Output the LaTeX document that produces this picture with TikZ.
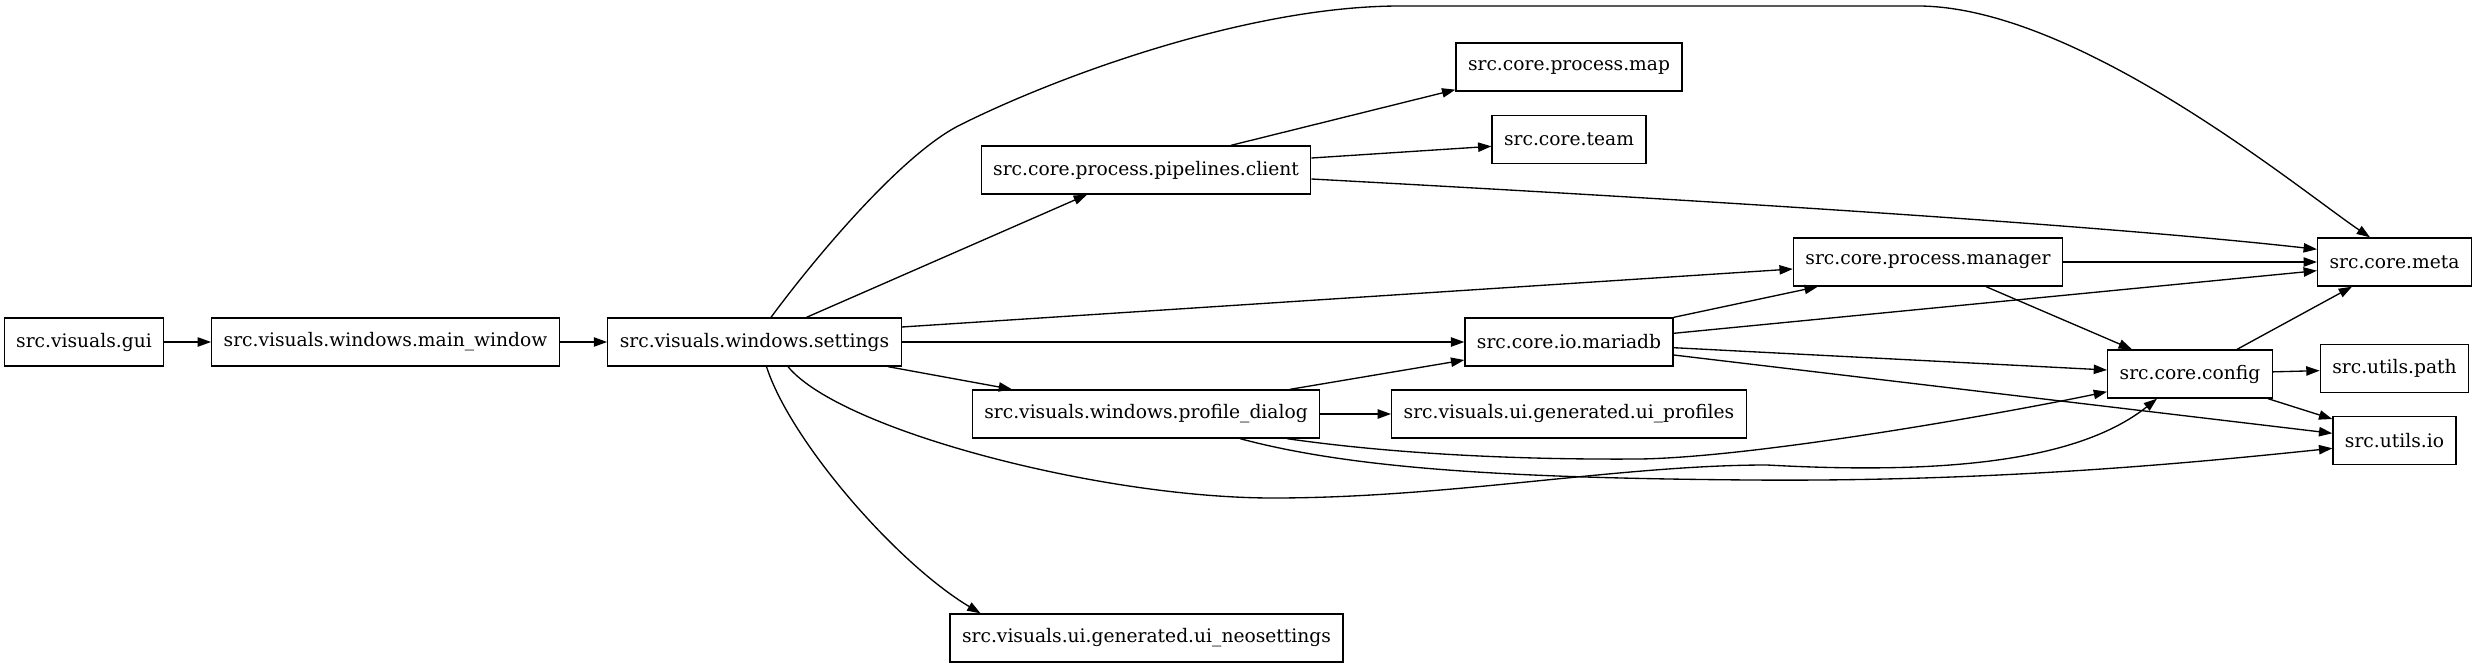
\documentclass[tikz,border=0pt]{standalone}
\usepackage{fontspec}
\setmainfont{DejaVu Serif}
\usetikzlibrary{arrows.meta,calc}

\begin{document}
\begin{tikzpicture}[x=0.75pt,y=-0.75pt,>={Triangle[length=10pt,width=7pt]},
  font=\fontsize{14}{17}\selectfont,
  module/.style={draw,line width=1pt,minimum height=36pt,inner xsep=9pt,inner ysep=0pt},
  dep/.style={->,line width=1pt}]
\useasboundingbox (0,0) rectangle (2476,667);
\node[module] (gui) at (84,342) {src.visuals.gui};
\node[module] (mainwin) at (385.5,342) {src.visuals.windows.main\_window};
\node[module] (settings) at (754.5,342) {src.visuals.windows.settings};
\node[module] (client) at (1146,170) {src.core.process.pipelines.client};
\node[module] (pmap) at (1569,67) {src.core.process.map};
\node[module] (team) at (1569,139.3) {src.core.team};
\node[module] (manager) at (1928,262) {src.core.process.manager};
\node[module] (meta) at (2394.5,262) {src.core.meta};
\node[module] (mariadb) at (1569,342) {src.core.io.mariadb};
\node[module] (config) at (2190,374) {src.core.config};
\node[module] (upath) at (2394.5,368.7) {src.utils.path};
\node[module] (uio) at (2394.5,440.7) {src.utils.io};
\node[module] (profile) at (1146,414) {src.visuals.windows.profile\_dialog};
\node[module] (uiprof) at (1569,414) {src.visuals.ui.generated.ui\_profiles};
\node[module] (uineo) at (1146.5,638) {src.visuals.ui.generated.ui\_neosettings};
\draw[dep] (gui) -- (mainwin);
\draw[dep] (mainwin) -- (settings);
\draw[dep] ($(settings.north)+(52,0)$) -- ($(client.south)+(-59,0)$);
\draw[dep] ($(settings.north)+(16.5,0)$) .. controls (811,263) and (900,155) .. (960,125)
  .. controls (1060,75) and (1250,6) .. (1400,6) -- (1920,6)
  .. controls (2080,8) and (2300,190) .. ($(meta.north)+(-24.5,0)$);
\draw[dep] ($(settings.east)+(0,-15)$) -- ($(manager.west)+(0,7)$);
\draw[dep] (settings) -- (mariadb);
\draw[dep] ($(settings.south)+(133.5,0)$) -- ($(profile.north)+(-134,0)$);
\draw[dep] ($(settings.south)+(33.5,0)$) .. controls (840,430) and (1100,498) .. (1273,498)
  .. controls (1450,498) and (1620,465) .. (1767,465)
  .. controls (1950,475) and (2080,460) .. ($(config.south)+(-33,0)$);
\draw[dep] ($(settings.south)+(12,0)$) .. controls (790,440) and (895,562) .. ($(uineo.north)+(-166,0)$);
\draw[dep] ($(client.north)+(85,0)$) -- ($(pmap.south west)+(0,-2)$);
\draw[dep] ($(client.east)+(0,-12)$) -- ($(team.west)+(0,7)$);
\draw[dep] ($(client.east)+(0,9)$) .. controls (1700,200) and (2100,225) .. ($(meta.west)+(0,-12.7)$);
\draw[dep] (manager) -- (meta);
\draw[dep] ($(manager.south)+(58,0)$) -- ($(config.north)+(-58,0)$);
\draw[dep] (mariadb.north east) -- ($(manager.south west)+(25,0)$);
\draw[dep] ($(mariadb.east)+(0,-8.7)$) -- ($(meta.west)+(0,8.7)$);
\draw[dep] ($(mariadb.east)+(0,5.7)$) -- ($(config.west)+(0,-4)$);
\draw[dep] ($(mariadb.east)+(0,13)$) -- ($(uio.west)+(0,-7.4)$);
\draw[dep] ($(profile.north)+(144,0)$) -- ($(mariadb.west)+(0,18)$);
\draw[dep] (profile) -- (uiprof);
\draw[dep] ($(profile.south)+(141,0)$) .. controls (1380,452) and (1500,460) .. (1640,459)
  .. controls (1760,457) and (2010,412) .. ($(config.west)+(0,17.7)$);
\draw[dep] ($(profile.south)+(94,0)$) .. controls (1350,468) and (1500,478) .. (1750,480)
  .. controls (2000,482) and (2200,462) .. ($(uio.west)+(0,7.6)$);
\draw[dep] ($(config.north)+(47,0)$) -- ($(meta.south)+(-42.5,0)$);
\draw[dep] (config) -- (upath);
\draw[dep] ($(config.south east)+(-5,0)$) -- ($(uio.north west)+(0,3)$);
\end{tikzpicture}
\end{document}
